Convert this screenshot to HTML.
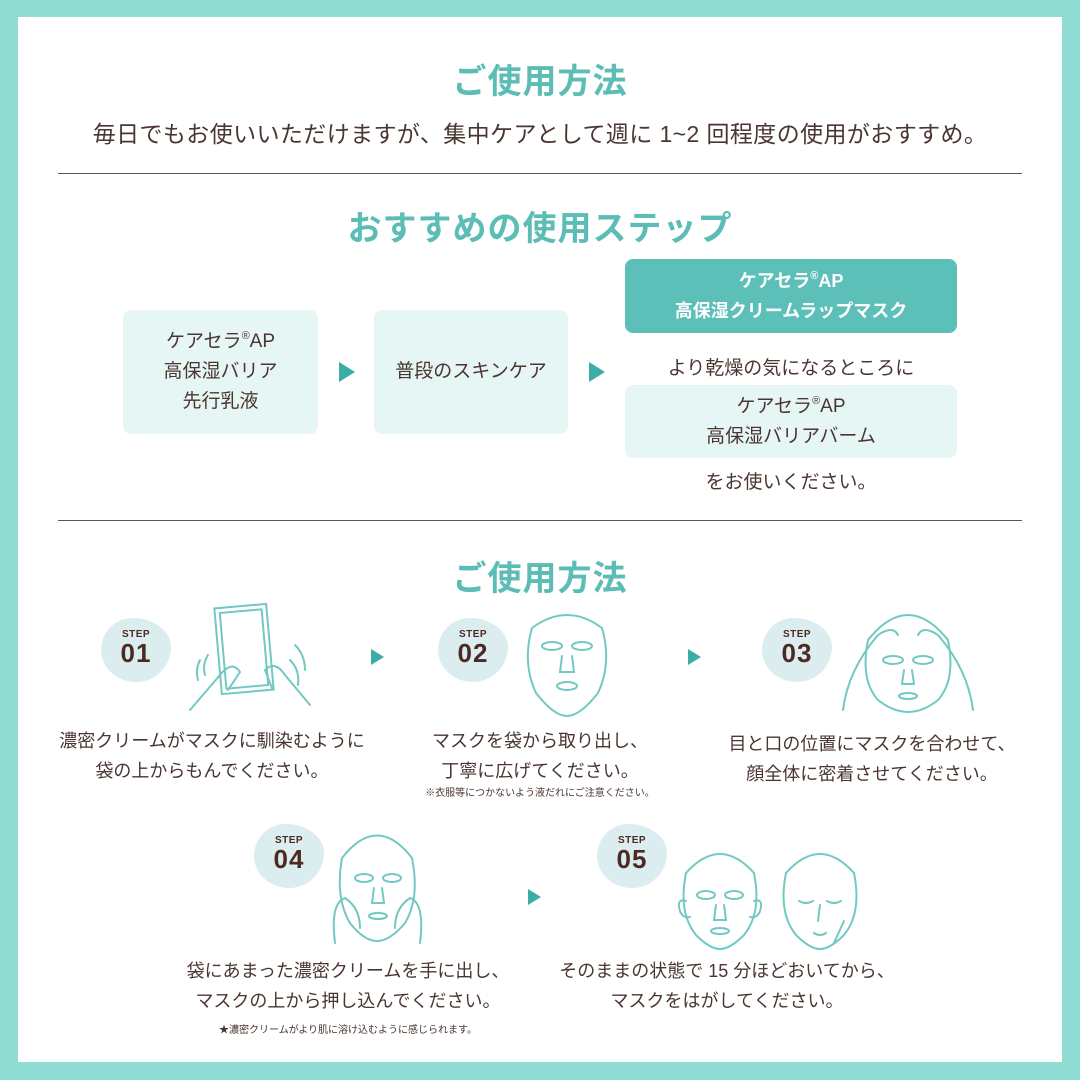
<!DOCTYPE html>
<html><head><meta charset="utf-8"><style>
*{margin:0;padding:0;box-sizing:border-box}
body{width:1080px;height:1080px;background:#8fdcd2;position:relative;overflow:hidden;font-family:"Liberation Sans","Noto Sans CJK JP",sans-serif;color:#4a3630}
#in{position:absolute;left:18px;top:17px;width:1044px;height:1045px;background:#fff}
.a{position:absolute;white-space:nowrap;text-align:center}
.h{color:#5bbdb5;font-weight:bold;font-size:34px;letter-spacing:1px}
.line{position:absolute;left:58px;width:964px;height:1px;background:#6b5048}
.box{position:absolute;background:#e6f6f4;border-radius:8px;display:flex;align-items:center;justify-content:center;text-align:center;font-size:19px;line-height:30px}
.box>div{display:block}
sup{font-size:11px;vertical-align:8px;line-height:0}
.tri{position:absolute;width:0;height:0;border-top:10px solid transparent;border-bottom:10px solid transparent;border-left:16px solid #3aaea6}
.tri.s{border-top-width:8px;border-bottom-width:8px;border-left-width:13px}
.badge{position:absolute;width:70px;height:64px;background:#dcedef;border-radius:45% 55% 50% 50%/50% 45% 55% 50%;text-align:center;color:#4a2a22;font-weight:bold}
.badge b{display:block;font-size:10px;margin-top:11px;letter-spacing:0.5px}
.badge i{display:block;font-style:normal;font-size:26px;line-height:26px;letter-spacing:1px}
.p{font-size:18px;line-height:30px}
.n{font-size:10px}
svg{position:absolute}
svg *{fill:none;stroke:#72c9c1;stroke-width:2;stroke-linecap:round}
</style></head><body>
<div id="in"></div>
<div class="a h" style="left:0;width:1080px;top:54px">ご使用方法</div>
<div class="a" style="left:0;width:1080px;top:115px;font-size:23px;letter-spacing:0.4px">毎日でもお使いいただけますが、集中ケアとして週に 1~2 回程度の使用がおすすめ。</div>
<div class="line" style="top:173px"></div>
<div class="a h" style="left:0;width:1080px;top:201px">おすすめの使用ステップ</div>
<div class="box" style="left:123px;top:310px;width:195px;height:124px"><div>ケアセラ<sup>®</sup>AP<br>高保湿バリア<br>先行乳液</div></div>
<div class="tri" style="left:339px;top:362px"></div>
<div class="box" style="left:374px;top:310px;width:194px;height:124px"><div>普段のスキンケア</div></div>
<div class="tri" style="left:589px;top:362px"></div>
<div class="box" style="left:625px;top:259px;width:332px;height:74px;background:#5cbfb8;color:#fff;font-weight:bold;font-size:18px;line-height:30px"><div>ケアセラ<sup>®</sup>AP<br>高保湿クリームラップマスク</div></div>
<div class="a" style="left:625px;width:332px;top:353px;font-size:19px">より乾燥の気になるところに</div>
<div class="box" style="left:625px;top:385px;width:332px;height:73px"><div>ケアセラ<sup>®</sup>AP<br>高保湿バリアバーム</div></div>
<div class="a" style="left:625px;width:332px;top:467px;font-size:19px">をお使いください。</div>
<div class="line" style="top:520px"></div>
<div class="a h" style="left:0;width:1080px;top:551px">ご使用方法</div>

<div class="badge" style="left:101px;top:618px"><b>STEP</b><i>01</i></div>
<svg style="left:180px;top:600px" width="140" height="115" viewBox="0 0 140 115">
<rect x="38" y="6" width="52" height="86" transform="rotate(-5 64 49)"/><rect x="43" y="11" width="42" height="76" transform="rotate(-5 64 49)"/>
<path d="M10 110 L40 75 Q52 60 60 72 L48 90"/><path d="M20 60 Q15 70 18 80"/><path d="M28 55 Q22 65 25 75"/>
<path d="M130 105 L105 75 Q95 60 85 70 L92 88"/><path d="M110 60 Q120 70 118 85"/><path d="M115 45 Q125 55 125 70"/>
</svg>
<div class="tri s" style="left:371px;top:649px"></div>
<div class="badge" style="left:438px;top:618px"><b>STEP</b><i>02</i></div>
<svg style="left:520px;top:608px" width="95" height="110" viewBox="0 0 95 110">
<path d="M12 20 Q47 -6 82 20 Q92 55 78 85 Q60 108 47 108 Q34 108 16 85 Q2 55 12 20Z"/>
<ellipse cx="32" cy="38" rx="10" ry="4"/><ellipse cx="62" cy="38" rx="10" ry="4"/>
<path d="M42 48 L40 64 L54 64 L52 48"/><ellipse cx="47" cy="78" rx="10" ry="4"/>
</svg>
<div class="tri s" style="left:688px;top:649px"></div>
<div class="badge" style="left:762px;top:618px"><b>STEP</b><i>03</i></div>
<svg style="left:838px;top:600px" width="140" height="115" viewBox="0 0 140 115">
<path d="M30 40 Q70 -10 110 40 Q118 80 100 100 Q85 112 70 112 Q55 112 40 100 Q22 80 30 40Z"/>
<ellipse cx="55" cy="60" rx="10" ry="4"/><ellipse cx="85" cy="60" rx="10" ry="4"/><path d="M66 70 L64 84 L76 84 L74 70"/><ellipse cx="70" cy="96" rx="9" ry="3"/>
<path d="M5 110 Q10 70 40 35 Q55 25 60 35"/><path d="M135 110 Q130 70 100 35 Q85 25 80 35"/>
</svg>
<div class="a p" style="left:0;width:424px;top:726px">濃密クリームがマスクに馴染むように<br>袋の上からもんでください。</div>
<div class="a p" style="left:340px;width:400px;top:726px">マスクを袋から取り出し、<br>丁寧に広げてください。</div>
<div class="a n" style="left:340px;width:400px;top:784px">※衣服等につかないよう液だれにご注意ください。</div>
<div class="a p" style="left:672px;width:400px;top:729px">目と口の位置にマスクを合わせて、<br>顔全体に密着させてください。</div>

<div class="badge" style="left:254px;top:824px"><b>STEP</b><i>04</i></div>
<svg style="left:330px;top:823px" width="95" height="125" viewBox="0 0 95 125">
<path d="M12 35 Q47 -10 82 35 Q90 75 75 100 Q60 118 47 118 Q34 118 20 100 Q5 75 12 35Z"/>
<ellipse cx="34" cy="55" rx="9" ry="4"/><ellipse cx="62" cy="55" rx="9" ry="4"/><path d="M44 65 L42 80 L54 80 L52 65"/><ellipse cx="48" cy="93" rx="9" ry="3"/>
<path d="M5 120 Q0 80 15 75 Q30 85 30 105"/><path d="M90 120 Q95 80 80 75 Q65 85 65 105"/>
</svg>
<div class="tri s" style="left:528px;top:889px"></div>
<div class="badge" style="left:597px;top:824px"><b>STEP</b><i>05</i></div>
<svg style="left:672px;top:843px" width="195" height="108" viewBox="0 0 195 108">
<path d="M14 30 Q48 -8 82 30 Q90 70 72 92 Q58 106 48 106 Q38 106 24 92 Q6 70 14 30Z"/>
<ellipse cx="34" cy="52" rx="9" ry="4"/><ellipse cx="62" cy="52" rx="9" ry="4"/><path d="M44 62 L42 77 L54 77 L52 62"/><ellipse cx="48" cy="88" rx="9" ry="3"/>
<path d="M14 58 Q4 55 8 68 Q10 75 18 74"/><path d="M82 58 Q92 55 88 68 Q86 75 78 74"/>
<path d="M114 30 Q148 -8 182 30 Q190 70 172 92 Q158 106 148 106 Q138 106 124 92 Q106 70 114 30Z"/>
<path d="M127 58 Q134 62 141 58"/><path d="M155 58 Q162 62 169 58"/><path d="M148 62 L146 78"/><path d="M142 90 Q148 94 154 90"/>
<path d="M162 100 L172 78"/>
</svg>
<div class="a p" style="left:148px;width:400px;top:956px">袋にあまった濃密クリームを手に出し、<br>マスクの上から押し込んでください。</div>
<div class="a n" style="left:148px;width:400px;top:1021px">★濃密クリームがより肌に溶け込むように感じられます。</div>
<div class="a p" style="left:527px;width:400px;top:956px">そのままの状態で 15 分ほどおいてから、<br>マスクをはがしてください。</div>
</body></html>
